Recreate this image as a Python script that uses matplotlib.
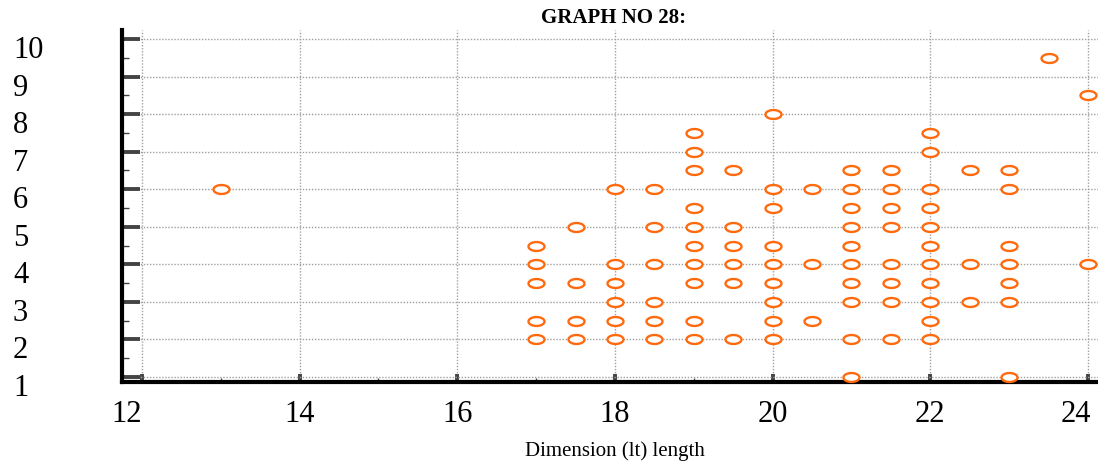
import matplotlib
matplotlib.use("Agg")
import matplotlib.pyplot as plt
import numpy as np
from matplotlib.path import Path
from matplotlib.transforms import ScaledTranslation
from matplotlib.ticker import MultipleLocator

# ---- data ----
x_vals = [13,
          17, 17, 17, 17, 17,
          17.5, 17.5, 17.5, 17.5,
          18, 18, 18, 18, 18, 18,
          18.5, 18.5, 18.5, 18.5, 18.5, 18.5,
          19, 19, 19, 19, 19, 19, 19, 19, 19, 19,
          19.5, 19.5, 19.5, 19.5, 19.5, 19.5,
          20, 20, 20, 20, 20, 20, 20, 20, 20,
          20.5, 20.5, 20.5,
          21, 21, 21, 21, 21, 21, 21, 21, 21, 21,
          21.5, 21.5, 21.5, 21.5, 21.5, 21.5, 21.5, 21.5,
          22, 22, 22, 22, 22, 22, 22, 22, 22, 22, 22,
          22.5, 22.5, 22.5,
          23, 23, 23, 23, 23, 23, 23,
          23.5,
          24, 24]
y_vals = [6,
          4.5, 4, 3.5, 2.5, 2,
          5, 3.5, 2.5, 2,
          6, 4, 3.5, 3, 2.5, 2,
          6, 5, 4, 3, 2.5, 2,
          7.5, 7, 6.5, 5.5, 5, 4.5, 4, 3.5, 2.5, 2,
          6.5, 5, 4.5, 4, 3.5, 2,
          8, 6, 5.5, 4.5, 4, 3.5, 3, 2.5, 2,
          6, 4, 2.5,
          6.5, 6, 5.5, 5, 4.5, 4, 3.5, 3, 2, 1,
          6.5, 6, 5.5, 5, 4, 3.5, 3, 2,
          7.5, 7, 6, 5.5, 5, 4.5, 4, 3.5, 3, 2.5, 2,
          6.5, 4, 3,
          6.5, 6, 4.5, 4, 3.5, 3, 1,
          9.5,
          8.5, 4]
x_ticks = [12, 14, 16, 18, 20, 22, 24]
y_ticks = [1, 2, 3, 4, 5, 6, 7, 8, 9, 10]
title_text = "GRAPH NO 28:"
xlabel_text = "Dimension (lt) length"

serif = ["Liberation Serif", "DejaVu Serif"]
plt.rcParams["font.family"] = serif

W, H = 1098, 462
fig = plt.figure(figsize=(W / 100, H / 100), dpi=100)
ax = fig.add_axes([122 / W, (H - 382) / H, (W - 122) / W, (382 - 30) / H])

# ellipse marker
t = np.linspace(0, 2 * np.pi, 60)
verts = np.column_stack([np.cos(t), 0.56 * np.sin(t)])
ell = Path(verts, closed=True)

ax.plot(x_vals, y_vals, linestyle="none", marker=ell, markersize=11.5,
        markerfacecolor="white", markeredgecolor="#ff6a0e", markeredgewidth=1.7,
        zorder=3, clip_on=False)

px_x = 78.83
px_y = 37.55
ax.set_xlim(12 - 20 / px_x, 12 + (W - 142) / px_x)
ax.set_ylim(1 - 5 / px_y, 10 + 9 / px_y)

ax.set_xticks(x_ticks)
ax.set_yticks(y_ticks)
ax.xaxis.set_minor_locator(MultipleLocator(1))
ax.yaxis.set_minor_locator(MultipleLocator(0.5))

for s in ["top", "right"]:
    ax.spines[s].set_visible(False)
for s in ["left", "bottom"]:
    ax.spines[s].set_linewidth(3.0)
    ax.spines[s].set_color("black")

ax.grid(True, which="major", color="#a0a0a0", linestyle=(0, (1, 1.2)), linewidth=1.0, zorder=1)

ax.tick_params(axis="y", which="major", direction="in", length=13, width=2.8,
               color="#444444", labelsize=22, pad=109 * 0.72)
ax.tick_params(axis="y", which="minor", direction="in", length=5, width=1.0, color="#444444")
ax.tick_params(axis="x", which="major", direction="in", length=6, width=2.8,
               color="#444444", labelsize=22, pad=13)
ax.tick_params(axis="x", which="minor", direction="in", length=3, width=1.0, color="#444444")

ax.set_yticklabels([str(v) for v in y_ticks])
ax.set_xticklabels([str(v) for v in x_ticks])
for lab in ax.get_yticklabels():
    lab.set_horizontalalignment("left")
    lab.set_transform(lab.get_transform() + ScaledTranslation(0, -8 / 100, fig.dpi_scale_trans))
xl = ax.get_xticklabels()
xl[0].set_horizontalalignment("right")
xl[-1].set_transform(xl[-1].get_transform() + ScaledTranslation(-12 / 100, 0, fig.dpi_scale_trans))

fig.text(614 / W, 1 - 18 / H, title_text, ha="center", va="center",
         fontsize=15, fontweight="bold")
fig.text(615 / W, 1 - 451 / H, xlabel_text, ha="center", va="center", fontsize=15)

fig.savefig("out.png", dpi=100)
